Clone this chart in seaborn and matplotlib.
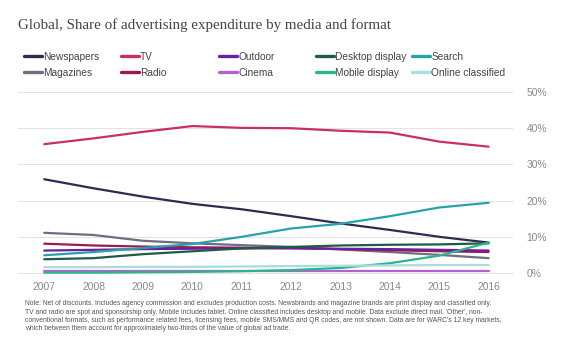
import matplotlib
matplotlib.use("Agg")
import matplotlib.pyplot as plt
import seaborn as sns
import pandas as pd

years = [2007, 2008, 2009, 2010, 2011, 2012, 2013, 2014, 2015, 2016]
newspapers = [25.9, 23.4, 21.1, 19.1, 17.6, 15.7, 13.7, 11.9, 10.0, 8.4]
magazines = [11.1, 10.5, 8.9, 8.2, 7.7, 7.2, 6.5, 5.8, 5.0, 4.1]
tv = [35.6, 37.2, 39.0, 40.6, 40.1, 40.0, 39.3, 38.8, 36.3, 34.9]
radio = [8.1, 7.6, 7.3, 7.1, 7.0, 6.9, 6.6, 6.3, 6.0, 5.8]
outdoor = [6.2, 6.4, 6.6, 6.7, 6.8, 6.8, 6.7, 6.6, 6.4, 6.2]
cinema = [0.5, 0.5, 0.5, 0.5, 0.5, 0.5, 0.5, 0.5, 0.5, 0.5]
desktop = [3.8, 4.1, 5.2, 6.0, 6.8, 7.2, 7.6, 7.8, 7.9, 8.2]
mobile = [0.1, 0.1, 0.2, 0.3, 0.5, 0.8, 1.4, 2.7, 4.8, 8.4]
search = [4.9, 5.8, 6.9, 8.0, 10.0, 12.3, 13.6, 15.7, 18.1, 19.4]
classified = [1.6, 1.6, 1.7, 1.7, 1.8, 1.9, 2.0, 2.1, 2.2, 2.2]

series_names = ["Newspapers", "Magazines", "TV", "Radio", "Outdoor", "Cinema",
                "Desktop display", "Mobile display", "Search", "Online classified"]
series_values = [newspapers, magazines, tv, radio, outdoor, cinema,
                 desktop, mobile, search, classified]
colors = ["#2b2d4f", "#6e6e80", "#c8325a", "#9b1a4f", "#6a1fa0", "#b561d6",
          "#1f5a45", "#2bb58a", "#26a3a8", "#a8dedd"]
y_ticks = [0, 10, 20, 30, 40, 50]
y_labels = ["0%", "10%", "20%", "30%", "40%", "50%"]

title = "Global, Share of advertising expenditure by media and format"
note = ("Note: Net of discounts. Includes agency commission and excludes production costs. Newsbrands and magazine brands are print display and classified only.\n"
        "TV and radio are spot and sponsorship only. Mobile includes tablet. Online classified includes desktop and mobile. Data exclude direct mail. 'Other', non-\n"
        "conventional formats, such as performance related fees, licensing fees, mobile SMS/MMS and QR codes, are not shown. Data are for WARC's 12 key markets,\n"
        "which between them account for approximately two-thirds of the value of global ad trade.")

rows = []
for name, vals in zip(series_names, series_values):
    for y, v in zip(years, vals):
        rows.append({"year": y, "value": v, "series": name})
df = pd.DataFrame(rows)

sns.set_theme(style="white")
plt.rcParams["font.family"] = ["Liberation Sans", "DejaVu Sans"]

fig = plt.figure(figsize=(5.66, 3.45), dpi=100)
ax = fig.add_axes([0.032, 0.2, 0.874, 0.539])

palette = dict(zip(series_names, colors))
sns.lineplot(data=df, x="year", y="value", hue="series", hue_order=series_names,
             palette=palette, linewidth=1.6, ax=ax, legend=True)

handles, labels = ax.get_legend_handles_labels()
ax.get_legend().remove()

ax.set_xlim(2006.47, 2016.49)
ax.set_ylim(-0.83, 50.55)
ax.set_yticks(y_ticks)
ax.set_yticklabels(y_labels)
ax.set_xticks(years)
ax.set_xticklabels([str(y) for y in years])
ax.yaxis.tick_right()
ax.tick_params(axis="both", length=0, labelsize=7.4, colors="#8a8a8a")
ax.tick_params(axis="y", pad=10)
ax.tick_params(axis="x", pad=4)
ax.grid(axis="y", color="#e3e3e3", linewidth=0.8)
for s in ax.spines.values():
    s.set_visible(False)
ax.set_xlabel("")
ax.set_ylabel("")

fig.text(18 / 566, 1 - 25 / 345, title, family=["Liberation Serif", "DejaVu Serif"],
         fontsize=10.8, color="#444444", va="center", ha="left")

col_x = [24, 121, 219, 316, 412]
hmap = dict(zip(labels, handles))
for i in range(5):
    names = series_names[2 * i:2 * i + 2]
    leg = fig.legend([hmap[n] for n in names], names, loc="upper left",
                     bbox_to_anchor=(col_x[i] / 566, 1 - 52 / 345), frameon=False,
                     fontsize=7.3, handlelength=1.8, handletextpad=0.1,
                     labelspacing=0.58, borderpad=0, borderaxespad=0)
    for t in leg.get_texts():
        t.set_color("#444444")
    for l in leg.get_lines():
        l.set_linewidth(2.4)

fig.text(25 / 566, 1 - 300 / 345, note, fontsize=4.9, color="#555555",
         va="top", ha="left", linespacing=1.3)

fig.savefig("out.png", dpi=100)
